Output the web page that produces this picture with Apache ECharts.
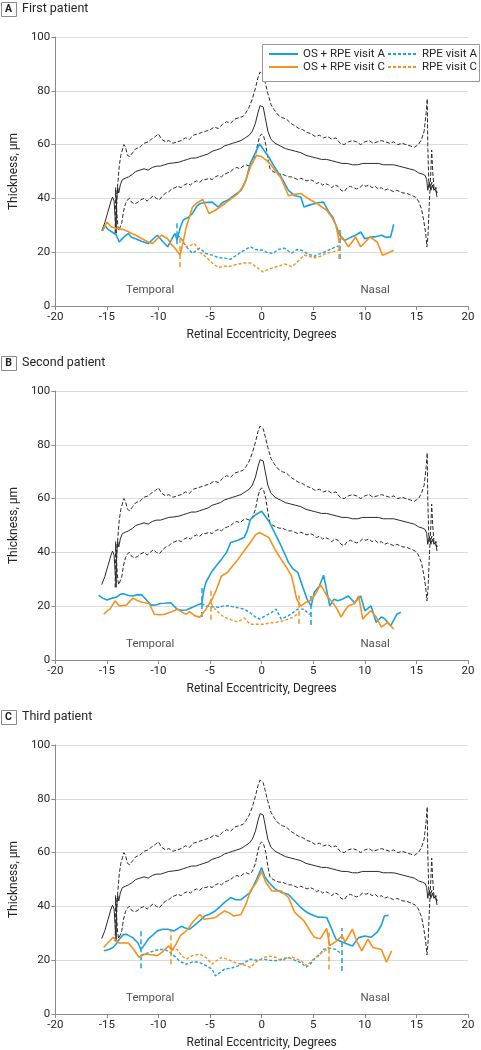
<!DOCTYPE html>
<html><head><meta charset="utf-8">
<script src="https://cdn.jsdelivr.net/npm/echarts@6/dist/echarts.min.js"></script>
<style>html,body{margin:0;padding:0;background:#fff}#c{width:481px;height:1050px}</style>
</head><body><div id="c"></div>
<script>
// ---------- DATA ----------
const panelTitles = ['First patient', 'Second patient', 'Third patient'];
const panelLetters = ['A', 'B', 'C'];
const seriesNames = ['OS + RPE visit A', 'OS + RPE visit C', 'RPE visit A', 'RPE visit C'];
const xTicks = [-20, -15, -10, -5, 0, 5, 10, 15, 20];
const yTicks = [0, 20, 40, 60, 80, 100];
const regionLabels = [['Temporal', -10.8, 6], ['Nasal', 11, 6]];

// normative curves (same in every panel)
const normMean = [[-15.5,28],[-15.2,31],[-14.9,35],[-14.6,39],[-14.45,40.5],[-14.3,39],[-14.15,30],[-14.1,27],[-14.05,40],[-13.95,44],[-13.85,42],[-13.7,45],[-13.5,47],[-13.2,47.5],[-12.9,48],[-12.5,49],[-12.2,50],[-11.8,50.5],[-11.4,51],[-11,50.5],[-10.6,51.5],[-10.2,52],[-9.8,52],[-9.4,52.5],[-9,53],[-8.5,53.2],[-8,53.5],[-7.6,54],[-7.2,54.5],[-6.8,55],[-6.4,55],[-6,55.5],[-5.6,56],[-5.2,56.5],[-4.8,57.5],[-4.4,58],[-4,58.5],[-3.6,59.5],[-3.2,60],[-2.8,60.5],[-2.4,61],[-2,61.5],[-1.6,62.5],[-1.2,63.5],[-0.9,65],[-0.6,68],[-0.35,72],[-0.15,74.5],[0,75],[0.15,74],[0.35,70],[0.6,65],[0.9,62],[1.3,60.5],[1.8,59.5],[2.3,58.5],[2.8,58],[3.3,57.5],[3.8,57],[4.3,56],[4.8,55.5],[5.3,55],[5.8,54.5],[6.3,54.5],[6.8,54],[7.3,53.5],[7.8,53],[8.3,53],[8.8,52.5],[9.3,52.5],[9.8,53],[10.3,53],[10.8,53],[11.3,53],[11.8,52.5],[12.3,52.5],[12.8,52.5],[13.3,52],[13.8,51.5],[14.3,51],[14.8,50.5],[15.2,49.5],[15.6,49],[15.85,48.5],[16.0,47],[16.1,43],[16.25,46],[16.4,43],[16.55,45],[16.7,43],[16.85,44],[17.0,40.5]];
const normUpper = [[-14.2,27],[-14.15,44],[-14.05,38],[-13.95,45],[-13.8,52],[-13.65,56],[-13.5,58],[-13.35,60],[-13.2,59],[-13.0,56],[-12.8,55.5],[-12.5,57],[-12.2,58.5],[-11.8,59],[-11.4,60.5],[-11,61],[-10.7,62],[-10.3,63],[-10.0,64],[-9.7,62],[-9.3,61],[-9,61.5],[-8.6,60.5],[-8.2,61],[-7.8,61.5],[-7.4,62.5],[-7,62],[-6.6,63.5],[-6.2,64],[-5.8,64.5],[-5.4,65],[-5.0,65.5],[-4.6,66.5],[-4.2,66],[-3.8,67.5],[-3.4,68.5],[-3.0,68],[-2.6,69.5],[-2.2,70],[-1.8,70.5],[-1.5,72],[-1.2,74],[-0.9,77],[-0.6,81],[-0.35,85],[-0.15,87],[0,87],[0.15,86],[0.35,83],[0.6,79],[0.9,75],[1.2,73],[1.6,71],[2.0,70],[2.4,69.5],[2.8,68],[3.2,67],[3.6,66],[4.0,65.5],[4.4,64.5],[4.8,64],[5.2,63],[5.6,63.5],[6.0,62.5],[6.4,63],[6.8,62],[7.2,62.5],[7.6,60.5],[8.0,60],[8.4,61],[8.8,61.5],[9.2,61],[9.6,60],[10.0,61],[10.4,61.5],[10.8,60.5],[11.2,61],[11.6,61.5],[12.0,61],[12.4,60.5],[12.8,61],[13.2,60],[13.6,60.5],[14.0,60],[14.4,59.5],[14.8,59],[15.2,60],[15.5,62],[15.75,65],[15.95,72],[16.05,77],[16.1,60],[16.2,46],[16.35,44],[16.5,46],[16.7,43],[16.9,44],[17.0,42]];
const normLower = [[-14.15,43],[-14.05,36],[-13.95,30],[-13.85,28],[-13.7,28.5],[-13.55,31],[-13.4,35],[-13.2,38],[-13.0,39.5],[-12.8,40],[-12.6,38.5],[-12.3,38],[-12.0,38.5],[-11.7,39.5],[-11.4,40],[-11.1,39],[-10.8,40],[-10.5,41],[-10.2,40],[-9.9,39.5],[-9.6,41],[-9.3,42],[-9.0,42.5],[-8.7,43.5],[-8.4,44],[-8.1,44.5],[-7.8,44],[-7.5,45],[-7.2,45.5],[-6.9,45],[-6.6,46],[-6.3,46.5],[-6.0,46],[-5.7,47],[-5.4,47],[-5.1,47.5],[-4.8,47],[-4.5,48],[-4.2,48.5],[-3.9,48],[-3.6,49],[-3.3,49.5],[-3.0,50],[-2.7,51],[-2.4,51.5],[-2.1,51],[-1.8,52],[-1.5,52.5],[-1.2,52],[-0.9,53],[-0.6,56],[-0.4,60],[-0.2,63],[0,64],[0.2,63],[0.4,60],[0.6,55],[0.8,51],[1.1,50],[1.4,49.5],[1.7,49],[2.0,49],[2.3,48.5],[2.6,48],[2.9,48],[3.2,47.5],[3.5,47],[3.8,47.5],[4.1,47],[4.4,46.5],[4.7,47],[5.0,46.5],[5.3,45.5],[5.6,46],[5.9,45],[6.2,45.5],[6.5,45],[6.8,44],[7.1,45],[7.4,44.5],[7.7,43],[8.0,42.5],[8.3,44],[8.6,44.5],[8.9,44],[9.2,43.5],[9.5,44],[9.8,45],[10.1,44.5],[10.4,45],[10.7,44],[11.0,44.5],[11.3,43.5],[11.6,44],[11.9,43],[12.2,43.5],[12.5,43],[12.8,42.5],[13.1,43],[13.4,42.5],[13.7,42],[14.0,42],[14.3,41.5],[14.6,41],[14.9,40.5],[15.2,39],[15.5,36],[15.7,32],[15.9,27],[16.02,22],[16.12,26],[16.25,38],[16.4,50],[16.48,58],[16.58,50],[16.7,44],[16.85,43],[17.0,42]];

// Panel A
const aOsA = [[-15.4,28],[-15.2,30],[-14.9,28.5],[-14.5,27.5],[-14.1,26.5],[-13.8,23.8],[-13.4,25.5],[-12.9,27],[-12.6,25.5],[-12.2,25],[-11.6,24],[-11,23.2],[-10.5,25],[-10.1,26.3],[-9.6,24],[-9.1,22],[-8.7,25],[-8.4,27],[-8.2,24.5],[-7.9,29],[-7.6,32],[-7.1,33],[-6.7,34.4],[-6.3,37],[-6.0,38],[-5.5,38.5],[-4.8,38.6],[-4.2,36.8],[-3.8,38.5],[-3.3,39.3],[-2.7,41],[-2.0,43],[-1.5,47],[-1.1,53],[-0.6,57],[-0.2,60.3],[0.2,58],[0.7,55.3],[1.2,52],[1.9,47.9],[2.6,43],[3.2,41],[3.8,40.5],[4.1,36.8],[4.6,37.5],[5.1,38],[5.6,38.5],[6.0,38.6],[6.5,35],[6.9,33],[7.5,27],[7.8,25],[8.1,24.4],[8.6,25.5],[9.1,26.3],[9.6,27.5],[10.0,25],[10.6,25.6],[11.1,25.8],[11.6,26.3],[12.1,25.5],[12.5,25.7],[12.8,30.4]];
const aOsC = [[-15.4,28],[-15.0,31.2],[-14.6,29.5],[-14.1,28.8],[-13.5,28.5],[-13.1,28],[-12.6,27],[-12.2,26.3],[-11.6,25],[-11,23.8],[-10.6,23.2],[-10.1,25],[-9.7,26.3],[-9.1,25],[-8.8,23],[-8.5,22],[-7.9,18.9],[-7.6,24],[-7.3,29.4],[-7.0,33],[-6.7,36.8],[-6.2,38.5],[-5.7,39.6],[-5.4,37],[-5.1,34.4],[-4.5,35.6],[-3.6,38],[-2.9,40],[-2.3,41.8],[-1.7,45],[-1.1,51.6],[-0.5,56],[0,55.5],[0.7,53.4],[1.3,50.5],[1.9,47.4],[2.6,41],[3.2,41.5],[3.8,41.8],[4.3,40.5],[4.8,39.3],[5.4,38],[6.3,35.6],[6.8,33],[7.2,30],[7.5,24.4],[7.8,25.7],[8.4,22],[8.8,24],[9.1,25.7],[9.6,22],[10.1,24],[10.5,25.7],[11.2,23.8],[11.7,18.9],[12.3,19.8],[12.8,20.7]];
const aRpeA = [[-8.2,26],[-7.9,25.7],[-7.3,22],[-6.7,19.6],[-6.0,21.5],[-5.4,19.5],[-4.8,18.9],[-4.2,18],[-3.6,17.8],[-3.0,17.4],[-2.4,19],[-1.7,20.7],[-1.1,22],[-0.6,21],[0.1,20.7],[0.6,19.8],[1.1,19.6],[1.6,21],[2.2,21.5],[2.9,19.6],[3.4,21],[3.9,20.7],[4.4,19.5],[5.1,18.5],[5.7,19.5],[6.3,20.4],[6.9,21.5],[7.6,22.5]];
const aRpeC = [[-7.9,25.5],[-7.3,22],[-6.9,22.5],[-6.5,23.2],[-6.0,20],[-5.4,18.3],[-4.8,16],[-4.2,14.3],[-3.6,14.8],[-3.0,14.8],[-2.4,15.5],[-1.7,16],[-1.1,16],[-0.5,14.5],[0.1,12.7],[0.6,13.5],[1.4,14.6],[2.3,15.6],[2.9,14.6],[3.5,16.5],[4.1,18.9],[4.6,18.5],[5.1,17.8],[5.7,18.5],[6.3,19.6],[6.9,20.2],[7.5,20.7]];
const aMarksA = [[-8.2,23,31],[7.6,17.5,29]];
const aMarksC = [[-7.9,14.5,26],[7.45,17.5,29]];

// Panel B
const bOsA = [[-15.8,24],[-15.4,23],[-15,22.3],[-14.5,23],[-14.1,23.3],[-13.7,24.4],[-13.4,24.6],[-12.9,24],[-12.5,23.8],[-12,24.3],[-11.6,24.2],[-11.1,22],[-10.7,20.4],[-10.2,20.5],[-9.8,21],[-9.4,21.1],[-8.8,21.3],[-8.2,18.9],[-7.7,18.5],[-7.3,18.6],[-6.7,19.6],[-6.2,20.5],[-5.8,21],[-5.6,26],[-5.4,28.9],[-4.8,33],[-4.3,35.5],[-3.9,37.4],[-3.4,40],[-3.0,43.7],[-2.3,44.5],[-1.7,45.5],[-1.4,48],[-1.1,52.2],[-0.6,54],[0,55.3],[0.7,51.6],[1.3,47],[1.9,42.3],[2.6,36.3],[3.0,34],[3.5,32.6],[4.0,27],[4.4,22.6],[4.8,20],[5.1,25.2],[5.6,27.5],[6.0,31.5],[6.3,26],[6.6,20.1],[7.0,22.6],[7.4,22],[7.8,22.6],[8.4,23.8],[9.0,21.3],[9.6,23.8],[10.0,18.3],[10.6,20.1],[11.1,14],[11.6,16],[11.9,15.4],[12.5,12.7],[13.1,17],[13.5,17.8]];
const bOsC = [[-15.3,17],[-14.9,18.5],[-14.7,18.9],[-14.2,22],[-13.8,20.1],[-13.1,20.4],[-12.5,23],[-12.0,22],[-11.6,21.5],[-10.9,21],[-10.4,17],[-9.9,16.8],[-9.4,17],[-8.8,17.8],[-8.2,18.9],[-7.6,17.5],[-7.3,17],[-7.0,18],[-6.5,16.5],[-6.0,15.9],[-5.4,18.9],[-4.8,22.6],[-4.4,26],[-3.9,31.2],[-3.3,32.6],[-2.8,35],[-2.3,37.4],[-1.7,40.5],[-1.1,43.7],[-0.6,46.5],[-0.2,47.4],[0.7,45.5],[1.3,41],[1.9,37.4],[2.4,34.5],[2.9,31.2],[3.4,22.6],[3.8,20],[4.3,21.5],[4.8,22.2],[5.3,25],[5.7,28.1],[6.3,24],[6.9,21.3],[7.3,19],[7.7,15.9],[8.0,18],[8.4,20.1],[9.0,21],[9.4,23.8],[9.8,15.2],[10.2,17],[10.6,18.3],[11.1,16],[11.6,12.2],[12.2,14],[12.8,11.5]];
const bRpeA = [[-5.8,21],[-5.4,20.1],[-4.8,19.8],[-4.2,19.6],[-3.6,20.2],[-3.0,20],[-2.4,19.5],[-1.7,18.9],[-1.1,17.5],[-0.6,16],[-0.2,15.2],[0.4,16.5],[0.9,17.5],[1.4,18.9],[1.9,15.2],[2.6,16.5],[3.0,17.5],[3.5,18.9],[4.1,18.9],[4.6,17],[4.8,17.5]];
const bRpeC = [[-4.9,21],[-4.5,18.9],[-4.0,17],[-3.6,15.9],[-3.0,15],[-2.3,14.2],[-1.7,15.6],[-1.1,13.3],[-0.5,13.3],[0.2,13.3],[0.8,13.8],[1.4,14],[2.0,14.5],[2.6,15.2],[3.1,16],[3.6,17.5]];
const bMarksA = [[-5.8,16,28],[4.8,13,24]];
const bMarksC = [[-4.9,15,26],[3.6,13.5,24]];

// Panel C
const cOsA = [[-15.3,23.5],[-14.8,24],[-14.4,24.7],[-14.1,26],[-13.8,27.8],[-13.4,29.5],[-13.1,29.6],[-12.5,28.4],[-12.0,26.5],[-11.7,24],[-11.3,26],[-11.0,27.8],[-10.5,29.5],[-10.1,30.9],[-9.6,31.5],[-9.1,31.5],[-8.5,30.9],[-8.1,31.8],[-7.8,32.6],[-7.4,32],[-7.0,31.5],[-6.5,33],[-6.0,34.6],[-5.5,36.5],[-5.1,37],[-4.5,38.3],[-4.0,40],[-3.6,41.5],[-3.0,43.3],[-2.5,42.5],[-2.0,42.5],[-1.5,44],[-1.1,45.2],[-0.5,50],[0,54.4],[0.3,51],[0.7,48.9],[1.3,46.5],[1.9,45.2],[2.6,44.4],[3.2,42],[3.8,39.6],[4.3,38],[4.8,37],[5.5,36],[6.3,35.9],[6.8,31.5],[7.2,27.8],[7.8,26.8],[8.3,26],[8.8,25.3],[9.4,28.4],[10.0,29],[10.6,28.5],[11.2,30.4],[11.6,33],[11.9,36.4],[12.3,36.7]];
const cOsC = [[-15.3,24.7],[-14.9,26.5],[-14.4,28.5],[-14.1,27.5],[-13.8,26.3],[-13.3,26.5],[-12.9,26.3],[-12.4,24],[-11.9,21.1],[-11.3,22.3],[-10.7,22],[-10.1,21.7],[-9.5,23.5],[-9.0,25.3],[-8.7,23.5],[-8.3,26],[-7.9,29],[-7.3,30.9],[-6.7,34],[-6.0,37],[-5.6,35.2],[-4.5,35.8],[-3.6,38.3],[-3.1,37.5],[-2.7,36.4],[-2.0,37],[-1.5,41],[-1.1,45.7],[-0.5,49],[0,53.1],[0.4,49],[1.0,45.7],[1.9,45.7],[2.6,43.3],[3.2,37.8],[4.1,34.6],[4.6,31.5],[5.1,28.5],[5.7,28],[6.3,31.8],[6.6,25.4],[7.2,27],[7.8,29],[8.1,26.8],[8.8,31.5],[9.2,27.2],[9.7,23.5],[10.3,27.8],[10.8,24.7],[11.6,24],[12.1,19.3],[12.6,23.5]];
const cRpeA = [[-11.7,22],[-11.3,22.3],[-10.8,23],[-10.4,23.5],[-9.9,24],[-9.4,24],[-8.9,23],[-8.5,21.7],[-7.9,19.5],[-7.3,18.5],[-6.6,19.5],[-6.0,19.1],[-5.4,18],[-4.8,16.7],[-4.5,14.2],[-4.0,15.5],[-3.6,16.7],[-3.0,17],[-2.3,17.9],[-1.7,19],[-1.1,20.4],[-0.5,20],[0.2,20.4],[0.8,20],[1.4,19.8],[2.0,20.5],[2.6,21],[3.2,20],[3.8,19.1],[4.3,17.4],[4.7,18.5],[5.1,20.4],[5.6,22],[6.0,24],[6.6,24.5],[7.2,24],[7.8,22]];
const cRpeC = [[-8.8,24.5],[-8.2,24],[-7.7,21.5],[-7.3,20.4],[-6.7,21.7],[-6.0,22.3],[-5.4,21],[-4.8,18.5],[-4.3,20],[-3.9,21],[-3.4,20.5],[-3.0,19.8],[-2.5,19],[-2.0,18.5],[-1.5,18],[-1.1,17.3],[-0.5,19.5],[0.2,21],[0.8,21.5],[1.4,21],[1.9,19.8],[2.4,20.5],[2.9,21.3],[3.4,20.5],[3.8,19.8],[4.4,17.9],[4.9,20],[5.4,21.6],[5.9,23],[6.3,24],[6.5,25]];
const cMarksA = [[-11.7,17,31],[7.8,16,32]];
const cMarksC = [[-8.8,18.5,31],[6.5,16.5,31]];

// ---------- BUILD ----------
const FONT = 'Roboto, "Liberation Sans", sans-serif';
const BLUE = '#18A2DE', ORANGE = '#F5921B', BLACK = '#2a2a2a', TXT = '#262626';
const panels = [
  {osA: aOsA, osC: aOsC, rpeA: aRpeA, rpeC: aRpeC, mA: aMarksA, mC: aMarksC},
  {osA: bOsA, osC: bOsC, rpeA: bRpeA, rpeC: bRpeC, mA: bMarksA, mC: bMarksC},
  {osA: cOsA, osC: cOsC, rpeA: cRpeA, rpeC: cRpeC, mA: cMarksA, mC: cMarksC}
];
const gridTops = [37, 391, 745];
const gridH = 269;
const headerY = [9, 363, 717];

const grid = [], xAxis = [], yAxis = [], series = [], graphic = [];
function marks(arr, color) {
  return {
    silent: true, symbol: ['none', 'none'], animation: false,
    label: {show: false},
    lineStyle: {color: color, type: [5, 3], width: 1.5},
    data: arr.map(m => [{coord: [m[0], m[1]]}, {coord: [m[0], m[2]]}])
  };
}
panels.forEach((p, i) => {
  grid.push({left: 36, right: 13, top: gridTops[i], height: gridH});
  xAxis.push({
    type: 'value', gridIndex: i, min: xTicks[0], max: xTicks[xTicks.length - 1], interval: 5,
    name: 'Retinal Eccentricity, Degrees', nameLocation: 'middle', nameGap: 23,
    nameTextStyle: {fontFamily: FONT, fontSize: 12, color: TXT},
    axisLine: {show: true, onZero: false, lineStyle: {color: '#8a8a8a'}},
    axisTick: {show: true, length: 4, lineStyle: {color: '#8a8a8a'}},
    axisLabel: {fontFamily: FONT, fontSize: 11.5, color: TXT, margin: 5},
    splitLine: {show: false}
  });
  yAxis.push({
    type: 'value', gridIndex: i, min: yTicks[0], max: yTicks[yTicks.length - 1], interval: 20,
    name: 'Thickness, µm', nameLocation: 'middle', nameGap: 30, nameRotate: 90,
    nameTextStyle: {fontFamily: FONT, fontSize: 12, color: TXT},
    axisLine: {show: true, onZero: false, lineStyle: {color: '#8a8a8a'}},
    axisTick: {show: true, length: 4, lineStyle: {color: '#8a8a8a'}},
    axisLabel: {fontFamily: FONT, fontSize: 11.5, color: TXT, margin: 5},
    splitLine: {show: true, lineStyle: {color: '#dcdcdc', width: 1}}
  });
  const base = {type: 'line', xAxisIndex: i, yAxisIndex: i, showSymbol: false, symbol: 'none', silent: true, animation: false};
  series.push(Object.assign({}, base, {name: 'norm-mean', data: normMean, lineStyle: {color: BLACK, width: 1}, z: 2}));
  series.push(Object.assign({}, base, {name: 'norm-upper', data: normUpper, lineStyle: {color: BLACK, width: 1, type: [4, 2]}, z: 2}));
  series.push(Object.assign({}, base, {name: 'norm-lower', data: normLower, lineStyle: {color: BLACK, width: 1, type: [4, 2]}, z: 2}));
  series.push(Object.assign({}, base, {name: seriesNames[0], data: p.osA, color: BLUE, lineStyle: {color: BLUE, width: 1.6}, z: 4}));
  series.push(Object.assign({}, base, {name: seriesNames[1], data: p.osC, color: ORANGE, lineStyle: {color: ORANGE, width: 1.6}, z: 5}));
  series.push(Object.assign({}, base, {name: seriesNames[2], data: p.rpeA, color: BLUE, lineStyle: {color: BLUE, width: 1.4, type: [3, 2]}, z: 4, markLine: marks(p.mA, BLUE)}));
  series.push(Object.assign({}, base, {name: seriesNames[3], data: p.rpeC, color: ORANGE, lineStyle: {color: ORANGE, width: 1.4, type: [3, 2]}, z: 5, markLine: marks(p.mC, ORANGE)}));
  series.push({
    type: 'scatter', xAxisIndex: i, yAxisIndex: i, symbolSize: 0, silent: true, animation: false,
    label: {show: true, position: 'inside', formatter: '{b}', fontFamily: FONT, fontSize: 11.5, color: TXT},
    data: regionLabels.map(r => ({name: r[0], value: [r[1], r[2]]}))
  });
  // panel header
  graphic.push({type: 'rect', left: 1, top: headerY[i] - 7, shape: {width: 15, height: 14},
    style: {fill: '#fff', stroke: '#8a8a8a', lineWidth: 1}});
  graphic.push({type: 'text', x: 8.5, y: headerY[i], style: {text: panelLetters[i], fontFamily: FONT, fontSize: 10.5, fontWeight: 'bold', fill: '#222', align: 'center', verticalAlign: 'middle'}});
  graphic.push({type: 'text', x: 22, y: headerY[i], style: {text: panelTitles[i], fontFamily: FONT, fontSize: 12.5, fill: TXT, align: 'left', verticalAlign: 'middle'}});
});
// legend frame
graphic.push({type: 'rect', left: 262, top: 44, shape: {width: 217, height: 37}, z: 10,
  style: {fill: '#fff', stroke: '#999', lineWidth: 1}});

const legendCommon = {orient: 'vertical', itemWidth: 29, itemHeight: 10, itemGap: 1, z: 20,
  itemStyle: {opacity: 0, borderWidth: 0},
  textStyle: {fontFamily: FONT, fontSize: 11.5, color: TXT}, padding: 0, selectedMode: false};
const option = {
  animation: false,
  grid, xAxis, yAxis, series, graphic,
  legend: [
    Object.assign({}, legendCommon, {left: 268, top: 48, data: [seriesNames[0], seriesNames[1]]}),
    Object.assign({}, legendCommon, {left: 387, top: 48, data: [seriesNames[2], seriesNames[3]]})
  ]
};
const chart = echarts.init(document.getElementById('c'), null, {renderer: 'canvas'});
chart.setOption(option);
</script></body></html>
